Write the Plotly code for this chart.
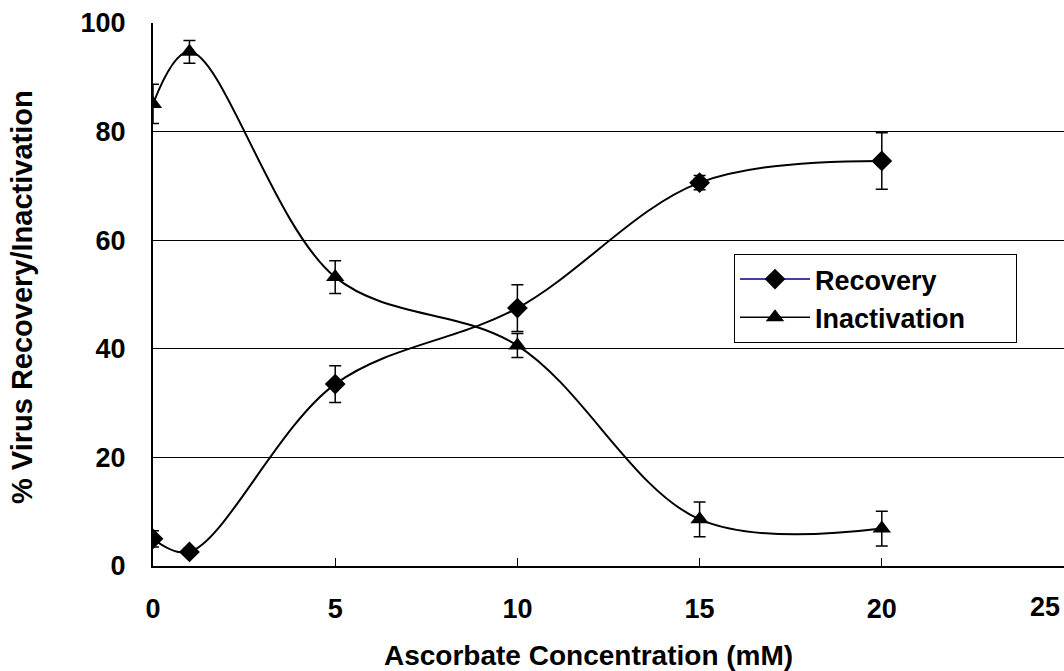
import plotly.graph_objects as go

concentration = [0, 1, 5, 10, 15, 20]
recovery = [5.0, 2.6, 33.5, 47.5, 70.6, 74.6]
recovery_err = [1.5, 0.6, 3.4, 4.3, 1.3, 5.2]
inactivation = [85.1, 94.7, 53.2, 40.6, 8.6, 6.9]
inactivation_err = [3.6, 2.1, 3.0, 2.2, 3.2, 3.2]
x_ticks = [0, 5, 10, 15, 20]
y_ticks = [0, 20, 40, 60, 80, 100]

FONT = "Arial, 'Liberation Sans', sans-serif"
W, H = 1064, 671
L, R, T, B = 153, 0, 23, 105
PW, PH = W - L - R, H - T - B

fig = go.Figure()

fig.add_trace(go.Scatter(
    x=concentration, y=recovery, mode="lines+markers", name="Recovery",
    line=dict(color="black", width=2, shape="spline", smoothing=1.0),
    marker=dict(symbol="diamond", size=16, color="black"),
    error_y=dict(type="data", array=recovery_err, visible=True,
                 color="black", thickness=1.5, width=6),
    showlegend=False,
))
fig.add_trace(go.Scatter(
    x=concentration, y=inactivation, mode="lines+markers", name="Inactivation",
    line=dict(color="black", width=2, shape="spline", smoothing=1.0),
    marker=dict(symbol="triangle-up", size=16, color="black"),
    error_y=dict(type="data", array=inactivation_err, visible=True,
                 color="black", thickness=1.5, width=6),
    showlegend=False,
))
# legend entries (recovery legend line is navy in the reference)
fig.add_trace(go.Scatter(
    x=[None], y=[None], mode="lines+markers", name="<b>Recovery</b>",
    line=dict(color="#000080", width=1.5),
    marker=dict(symbol="diamond", size=16, color="black"),
))
fig.add_trace(go.Scatter(
    x=[None], y=[None], mode="lines+markers",
    name="<b>Inactivation</b>&nbsp;&nbsp;&nbsp;&nbsp;&nbsp;&nbsp;",
    line=dict(color="black", width=1.5),
    marker=dict(symbol="triangle-up", size=16, color="black"),
))

fig.update_layout(
    width=W, height=H,
    margin=dict(l=L, r=R, t=T, b=B, pad=0),
    paper_bgcolor="white", plot_bgcolor="white",
    font=dict(family=FONT, size=27, color="black"),
    showlegend=True,
    legend=dict(
        x=(734 - L) / PW, y=(566 - 254) / PH,
        xanchor="left", yanchor="top",
        bgcolor="white", bordercolor="black", borderwidth=1,
        font=dict(family=FONT, size=27, color="black"),
        itemwidth=70, tracegroupgap=0,
    ),
    xaxis=dict(
        range=[0, 25], tickvals=x_ticks, ticktext=[f"<b>{v}</b>" for v in x_ticks],
        showgrid=False, zeroline=False,
        showline=True, linecolor="black", linewidth=2,
        ticks="inside", ticklen=8, tickwidth=1, tickcolor="black",
        ticklabelstandoff=18,
        tickfont=dict(family=FONT, size=27, color="black"),
    ),
    yaxis=dict(
        range=[0, 100], tickvals=y_ticks, ticktext=[f"<b>{v}</b>" for v in y_ticks],
        showgrid=True, gridcolor="black", gridwidth=1,
        zeroline=False,
        showline=True, linecolor="black", linewidth=2,
        ticks="", ticklabelstandoff=20,
        tickfont=dict(family=FONT, size=27, color="black"),
    ),
)

fig.add_annotation(
    text="<b>25</b>", xref="paper", yref="paper",
    x=(1045 - L) / PW, y=-(607 - 566) / PH,
    xanchor="center", yanchor="middle", showarrow=False,
    font=dict(family=FONT, size=27, color="black"),
)
fig.add_annotation(
    text="<b>Ascorbate Concentration (mM)</b>", xref="paper", yref="paper",
    x=(588 - L) / PW, y=-(655 - 566) / PH,
    xanchor="center", yanchor="middle", showarrow=False,
    font=dict(family=FONT, size=28, color="black"),
)
fig.add_annotation(
    text="<b>% Virus Recovery/Inactivation</b>", xref="paper", yref="paper",
    x=-(L - 22) / PW, y=(566 - 297) / PH,
    xanchor="center", yanchor="middle", showarrow=False, textangle=-90,
    font=dict(family=FONT, size=29, color="black"),
)

fig.write_html("out.html")
